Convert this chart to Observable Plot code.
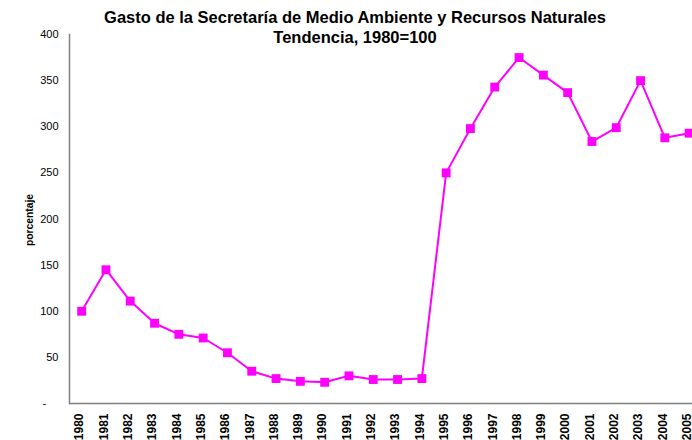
<!DOCTYPE html>
<html>
<head>
<meta charset="utf-8">
<script src="https://cdn.jsdelivr.net/npm/d3@7"></script>
<script src="https://cdn.jsdelivr.net/npm/@observablehq/plot@0.6"></script>
<style>
  html, body { margin: 0; padding: 0; background: #fff; }
  body { width: 692px; height: 440px; overflow: hidden; position: relative; font-family: "Liberation Sans", Arial, sans-serif; }
  #title { position: absolute; left: 18px; width: 674px; top: 7px; text-align: center; font-weight: bold; font-size: 16.5px; line-height: 20px; color: #000; z-index: 2; }
  #ylabel { position: absolute; left: 29px; top: 220px; transform: translate(-50%, -50%) rotate(-90deg); font-weight: bold; font-size: 10.3px; white-space: nowrap; color: #000; z-index: 2; }
  #chart { position: absolute; left: 0; top: 0; }
</style>
</head>
<body>
<div id="title">Gasto de la Secretaría de Medio Ambiente y Recursos Naturales<br>Tendencia, 1980=100</div>
<div id="ylabel">porcentaje</div>
<div id="chart"></div>
<script>
const years = ["1980","1981","1982","1983","1984","1985","1986","1987","1988","1989","1990","1991","1992","1993","1994","1995","1996","1997","1998","1999","2000","2001","2002","2003","2004","2005"];
const values = [100, 145, 111, 87, 75, 71, 55, 35, 27, 24, 23, 30, 26, 26, 27, 250, 298, 343, 375, 356, 337, 284, 299, 350, 288, 293];
const yTicks = [0, 50, 100, 150, 200, 250, 300, 350, 400];

const data = years.map((year, i) => ({year, value: values[i]}));
const magenta = "#FF00FF";

const chart = Plot.plot({
  width: 692,
  height: 440,
  marginTop: 34,
  marginBottom: 37,
  marginLeft: 69,
  marginRight: 0,
  style: {fontFamily: "'Liberation Sans', Arial, sans-serif", background: "transparent", color: "#000"},
  x: {type: "point", domain: years, range: [69, 700.8], padding: 0.5, round: false},
  y: {domain: [0, 400]},
  marks: [
    Plot.axisY({ticks: yTicks, tickSize: 0, tickPadding: 11, fontSize: 11, label: null,
      tickFormat: d => d === 0 ? "-\u00a0\u00a0\u00a0\u00a0" : String(d)}),
    Plot.axisX({tickRotate: -90, tickSize: 0, tickPadding: 10, fontSize: 12, fontWeight: "bold", label: null, dx: -2}),
    Plot.frame({anchor: "left", stroke: "#808080", strokeWidth: 1.5}),
    Plot.ruleY([0], {stroke: "#808080", strokeWidth: 1.5}),
    Plot.line(data, {x: "year", y: "value", stroke: magenta, strokeWidth: 2}),
    Plot.dot(data, {x: "year", y: "value", symbol: "square", r: 5, fill: magenta, stroke: "none"})
  ]
});
document.getElementById("chart").appendChild(chart);
</script>
</body>
</html>
